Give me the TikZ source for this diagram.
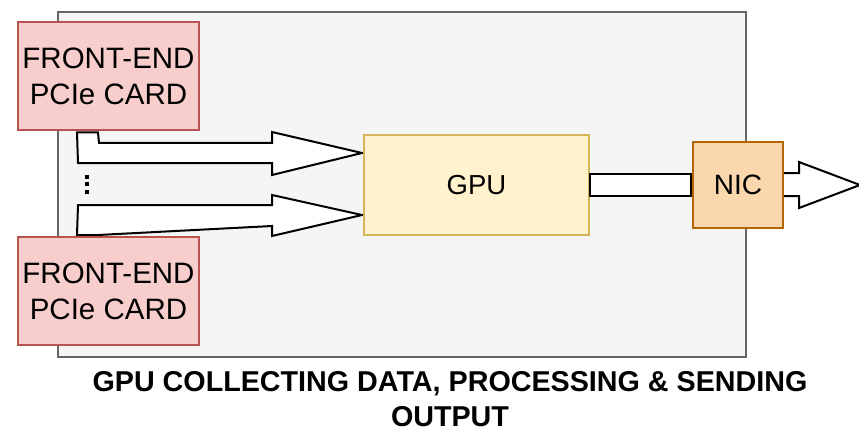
\documentclass[tikz,border=0pt]{standalone}
\usepackage{fontspec}
\setmainfont{Liberation Sans}
\usetikzlibrary{calc}
\pgfdeclarelayer{arrowlayer}
\pgfdeclarelayer{framelayer}
\pgfsetlayers{framelayer,arrowlayer,main}
\definecolor{outerfill}{HTML}{F5F5F5}
\definecolor{outerline}{HTML}{666666}
\definecolor{cardfill}{HTML}{F8CECC}
\definecolor{cardline}{HTML}{B85450}
\definecolor{gpufill}{HTML}{FFF2CC}
\definecolor{gpuline}{HTML}{D6B656}
\definecolor{nicfill}{HTML}{FAD7AC}
\definecolor{nicline}{HTML}{B46504}
\tikzset{
  outerbox/.style={draw=outerline, fill=outerfill, line width=2pt, inner sep=0pt, minimum width=688pt, minimum height=345pt},
  cardbox/.style={draw=cardline, fill=cardfill, line width=2pt, inner sep=0pt, minimum width=181pt, minimum height=108pt, align=center, font=\fontsize{29.5}{35.8}\selectfont},
  gpubox/.style={draw=gpuline, fill=gpufill, line width=2pt, inner sep=0pt, minimum width=225pt, minimum height=100pt, font=\fontsize{27.5}{33}\selectfont},
  nicbox/.style={draw=nicline, fill=nicfill, line width=2pt, inner sep=0pt, minimum width=90pt, minimum height=86pt, font=\fontsize{28}{33}\selectfont},
  fatarrow/.style={draw=black, fill=white, line width=2pt, line join=miter},
  titletext/.style={inner sep=0pt, align=center, font=\bfseries\fontsize{28.7}{34.5}\selectfont}
}
\begin{document}
\begin{tikzpicture}[x=1pt,y=-1pt]
\useasboundingbox (0,0) rectangle (859,433);
\begin{pgfonlayer}{framelayer}
\fill[white] (0,0) rectangle (859,433);
\end{pgfonlayer}
\node[gpubox] (gpu) at (476.5,185) {GPU};
\node[cardbox] (card1) at (108.5,76) {FRONT-END\\PCIe CARD};
\node[cardbox] (card2) at (108.5,291) {FRONT-END\\PCIe CARD};
\node[nicbox] (nic) at (738,185) {NIC};
\node[titletext, anchor=north] (title) at (450,371.5) {GPU COLLECTING DATA, PROCESSING \& SENDING\\OUTPUT};
\begin{pgfonlayer}{framelayer}
\node[outerbox] (frame) at (402,184.5) {};
\end{pgfonlayer}
\begin{pgfonlayer}{arrowlayer}
% input arrows from the cards to the GPU
\draw[fatarrow] ($(card1.south west)+(60,1.5)$) -- ($(card1.south west)+(81,1.5)$) -- (99,143) -- (272,143) -- (272,132)
  -- ($(gpu.west)+(-1,-32)$) -- (272,175) -- (272,163) -- (78,163) -- cycle;
\draw[fatarrow] (78,205) -- (272,205) -- (272,195)
  -- ($(gpu.west)+(-1,30)$) -- (272,236) -- (272,226) -- ($(card2.north west)+(81,-1)$) -- ($(card2.north west)+(60,-1)$) -- cycle;
% NIC output arrow
\draw[fatarrow] ($(nic.east)+(-4,-12)$) -- (799,173) -- (799,162) -- (860,185)
  -- (799,208) -- (799,196) -- ($(nic.east)+(-4,11)$) -- cycle;
\end{pgfonlayer}
% GPU to NIC shaft
\draw[fatarrow] ($(gpu.east)+(0,-11)$) rectangle ($(nic.west)+(-1,11)$);
% vertical dots
\fill[black] (85,174.5) rectangle (89,178.5);
\fill[black] (85,182) rectangle (89,186);
\fill[black] (85,190) rectangle (89,194);
\end{tikzpicture}
\end{document}
